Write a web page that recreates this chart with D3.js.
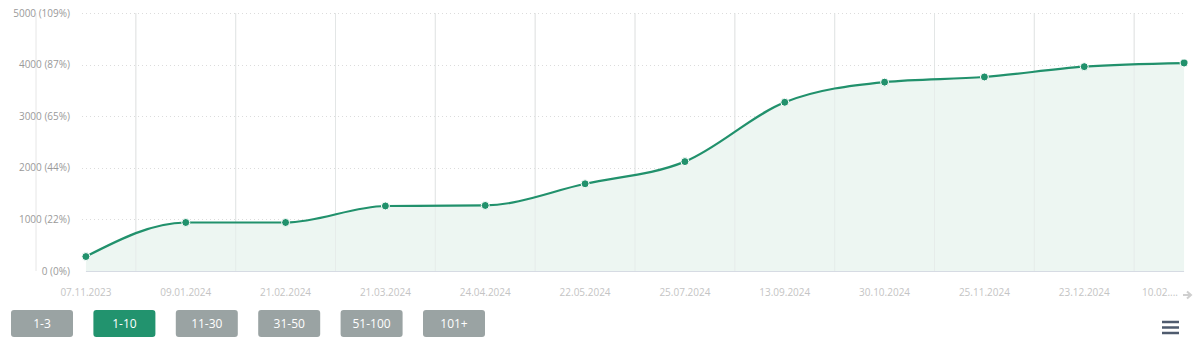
<!DOCTYPE html>
<html><head><meta charset="utf-8">
<script src="https://cdn.jsdelivr.net/npm/d3@7"></script>
<style>
html,body{margin:0;padding:0;background:#fff;}
svg{display:block;font-family:"Open Sans",sans-serif;}
</style></head>
<body><svg id="c" width="1200" height="344"></svg>
<script>
const categories = ["07.11.2023","09.01.2024","21.02.2024","21.03.2024","24.04.2024","22.05.2024","25.07.2024","13.09.2024","30.10.2024","25.11.2024","23.12.2024","10.02...."];
const values = [280, 940, 940, 1260, 1270, 1690, 2120, 3270, 3660, 3760, 3960, 4030];
const yTicks = [0, 1000, 2000, 3000, 4000, 5000];
const yTickLabels = ["0 (0%)","1000 (22%)","2000 (44%)","3000 (65%)","4000 (87%)","5000 (109%)"];
const buttons = ["1-3","1-10","11-30","31-50","51-100","101+"];
const activeButton = "1-10";

const svg = d3.select("#c");
const x = d3.scaleBand().domain(categories).range([36, 1234]).padding(0);
const cx = d => x(d) + x.bandwidth()/2;
const y = d3.scaleLinear().domain([0, 5000]).range([271, 13]);
const xL = cx(categories[0]), xR = cx(categories[categories.length-1]);

// vertical grid lines (category boundaries)
const bounds = categories.map(c => x(c));
svg.append("g").selectAll("line").data(bounds).join("line")
  .attr("x1", d => d).attr("x2", d => d)
  .attr("y1", y(5000)).attr("y2", 271)
  .attr("stroke", "#e6e6e6").attr("stroke-width", 1);

// horizontal dotted grid
svg.append("g").selectAll("line").data(yTicks.filter(d => d > 0)).join("line")
  .attr("x1", 82).attr("x2", xR)
  .attr("y1", d => Math.round(y(d)) + 0.5).attr("y2", d => Math.round(y(d)) + 0.5)
  .attr("stroke", "#dcdcdc").attr("stroke-dasharray", "1,3");

// area
const pts = categories.map((c, i) => [cx(c), y(values[i])]);
svg.append("path").datum(pts)
  .attr("d", d3.area().x(d => d[0]).y0(271).y1(d => d[1]).curve(d3.curveMonotoneX))
  .attr("fill", "#edf6f2");

// redraw vertical lines lightly over area
svg.append("g").selectAll("line").data(bounds.slice(1)).join("line")
  .attr("x1", d => d).attr("x2", d => d)
  .attr("y1", y(5000)).attr("y2", 271)
  .attr("stroke", "#e2e6e6").attr("stroke-width", 1).attr("opacity", 0.6);

// baseline
svg.append("line").attr("x1", xL).attr("x2", xR).attr("y1", 271.5).attr("y2", 271.5)
  .attr("stroke", "#d6dbe3").attr("stroke-width", 1);

// line
svg.append("path").datum(pts)
  .attr("d", d3.line().x(d => d[0]).y(d => d[1]).curve(d3.curveMonotoneX))
  .attr("fill", "none").attr("stroke", "#21916c").attr("stroke-width", 2.2);

// markers
svg.append("g").selectAll("circle").data(pts).join("circle")
  .attr("cx", d => d[0]).attr("cy", d => d[1]).attr("r", 4)
  .attr("fill", "#21916c").attr("stroke", "#fff").attr("stroke-width", 1);

// y labels
svg.append("g").selectAll("text").data(yTicks).join("text")
  .attr("x", 70).attr("y", d => y(d)).attr("dy", "0.35em")
  .attr("text-anchor", "end").attr("font-size", 10).attr("fill", "#9a9a9a")
  .text((d, i) => yTickLabels[i]);

// x labels
svg.append("g").selectAll("text").data(categories).join("text")
  .attr("x", (d, i) => i === categories.length - 1 ? 1178 : cx(d))
  .attr("y", 296)
  .attr("text-anchor", (d, i) => i === categories.length - 1 ? "end" : "middle")
  .attr("font-size", 10).attr("fill", "#c4c4c4")
  .text(d => d);

// arrow
svg.append("path").attr("d", "M1183,295 L1190,295 M1187,291.5 L1191,295 L1187,298.5")
  .attr("stroke", "#cfcfcf").attr("stroke-width", 2).attr("fill", "none");

// buttons
const bg = svg.append("g").selectAll("g").data(buttons).join("g")
  .attr("transform", (d, i) => `translate(${11 + i * 82.4},310)`);
bg.append("rect").attr("width", 62).attr("height", 27).attr("rx", 3)
  .attr("fill", d => d === activeButton ? "#22936e" : "#9aa3a3");
bg.append("text").attr("x", 31).attr("y", 13.5).attr("dy", "0.36em")
  .attr("text-anchor", "middle").attr("font-size", 12).attr("fill", "#fff")
  .text(d => d);

// menu icon
svg.append("g").selectAll("line").data([322, 327.5, 333]).join("line")
  .attr("x1", 1162).attr("x2", 1179).attr("y1", d => d).attr("y2", d => d)
  .attr("stroke", "#4f5b6e").attr("stroke-width", 2.5);
</script></body></html>
